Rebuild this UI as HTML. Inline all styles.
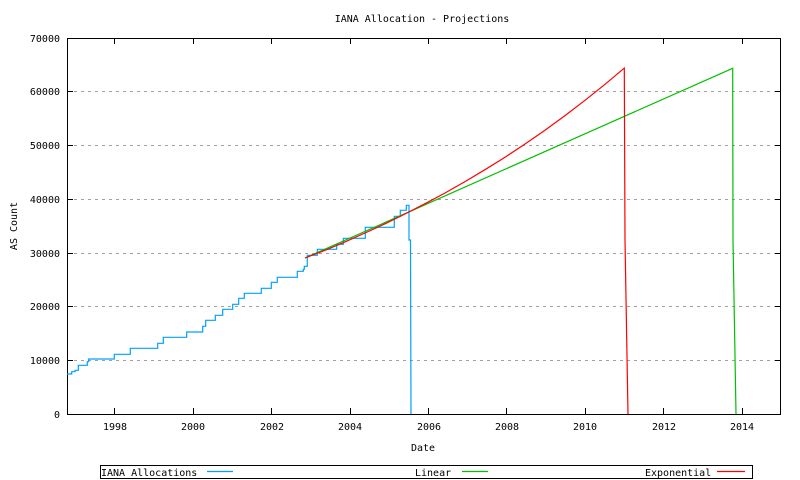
<!DOCTYPE html>
<html><head><style>
body{margin:0;background:#fff;}
svg{display:block;font-family:"DejaVu Sans Mono","Liberation Mono",monospace;font-size:10px;}
</style></head><body>
<svg width="800" height="480" xmlns="http://www.w3.org/2000/svg">
<rect width="800" height="480" fill="#fff"/>
<text x="422" y="22" text-anchor="middle">IANA Allocation - Projections</text>
<g stroke="#a0a0a0" stroke-dasharray="3,4" stroke-width="1">
<line x1="67" x2="781" y1="360.5" y2="360.5"/>
<line x1="67" x2="781" y1="306.5" y2="306.5"/>
<line x1="67" x2="781" y1="253.5" y2="253.5"/>
<line x1="67" x2="781" y1="199.5" y2="199.5"/>
<line x1="67" x2="781" y1="145.5" y2="145.5"/>
<line x1="67" x2="781" y1="91.5" y2="91.5"/>
</g>
<g stroke="#000" stroke-width="1">
<path d="M67,414.5h6M775,414.5h6M67,360.5h6M775,360.5h6M67,306.5h6M775,306.5h6M67,253.5h6M775,253.5h6M67,199.5h6M775,199.5h6M67,145.5h6M775,145.5h6M67,91.5h6M775,91.5h6M67,38.5h6M775,38.5h6"/>
<path d="M114.5,414v-6M114.5,38v6M193.5,414v-6M193.5,38v6M271.5,414v-6M271.5,38v6M350.5,414v-6M350.5,38v6M428.5,414v-6M428.5,38v6M506.5,414v-6M506.5,38v6M585.5,414v-6M585.5,38v6M663.5,414v-6M663.5,38v6M742.5,414v-6M742.5,38v6"/>
<rect x="67.5" y="38.5" width="713" height="376" fill="none"/>
</g>
<g text-anchor="end">
<text x="60" y="418">0</text><text x="60" y="364">10000</text><text x="60" y="310">20000</text>
<text x="60" y="257">30000</text><text x="60" y="203">40000</text><text x="60" y="149">50000</text>
<text x="60" y="95">60000</text><text x="60" y="42">70000</text>
</g>
<g text-anchor="middle">
<text x="115" y="430">1998</text><text x="193" y="430">2000</text><text x="272" y="430">2002</text>
<text x="350" y="430">2004</text><text x="429" y="430">2006</text><text x="507" y="430">2008</text>
<text x="585" y="430">2010</text><text x="664" y="430">2012</text><text x="742" y="430">2014</text>
<text x="423" y="451">Date</text>
</g>
<text transform="translate(17,226) rotate(-90)" text-anchor="middle">AS Count</text>
<polyline fill="none" stroke="#00a0ff" stroke-width="1.2" points="67,374 71.7,374 71.7,371.7 75,371.7 75,370.3 78.3,370.3 78.3,365.3 87.3,365.3 87.3,361.7 88.7,361.7 88.7,359 114.3,359 114.3,354.3 130.3,354.3 130.3,348.3 157.7,348.3 157.7,343.3 163.3,343.3 163.3,337.3 186.7,337.3 186.7,332 202.7,332 202.7,326.3 205.7,326.3 205.7,320.3 215.3,320.3 215.3,315.3 222.7,315.3 222.7,309.3 232.7,309.3 232.7,304.3 238.7,304.3 238.7,298.3 244.3,298.3 244.3,293.3 261.3,293.3 261.3,288.3 271.3,288.3 271.3,282.3 277.3,282.3 277.3,277.3 297.3,277.3 297.3,271.3 303.3,271.3 303.3,269.3 304.3,269.3 304.3,266.3 307.3,266.3 307.3,255.3 317.3,255.3 317.3,249.3 336.7,249.3 336.7,244.3 343.3,244.3 343.3,238.3 365.3,238.3 365.3,227.3 394.3,227.3 394.3,216.3 400.3,216.3 400.3,210.3 406.3,210.3 406.3,205.3 409,205.3 409,240 410.5,240 411,414"/>
<polyline fill="none" stroke="#00c000" stroke-width="1.2" points="305,258 732.7,68.3 733,240 736,414"/>
<polyline fill="none" stroke="#ff0000" stroke-width="1.2" points="305,258 325,250.3 345,241.9 365,233 385,223.8 405,214 425,203.7 445,193 465,181.6 485,169.7 505,157.2 525,144 545,130.2 565,115.6 585,100.3 605,84.3 624.3,68.1 625,240 628,414"/>
<rect x="100.5" y="465.5" width="652" height="13" fill="none" stroke="#000"/>
<text x="101" y="476">IANA Allocations</text>
<line x1="207" x2="233" y1="471.5" y2="471.5" stroke="#00a0ff" stroke-width="1.2"/>
<text x="415" y="476">Linear</text>
<line x1="462" x2="488" y1="471.5" y2="471.5" stroke="#00c000" stroke-width="1.2"/>
<text x="645" y="476">Exponential</text>
<line x1="717" x2="745" y1="471.5" y2="471.5" stroke="#ff0000" stroke-width="1.2"/>
</svg>
</body></html>
